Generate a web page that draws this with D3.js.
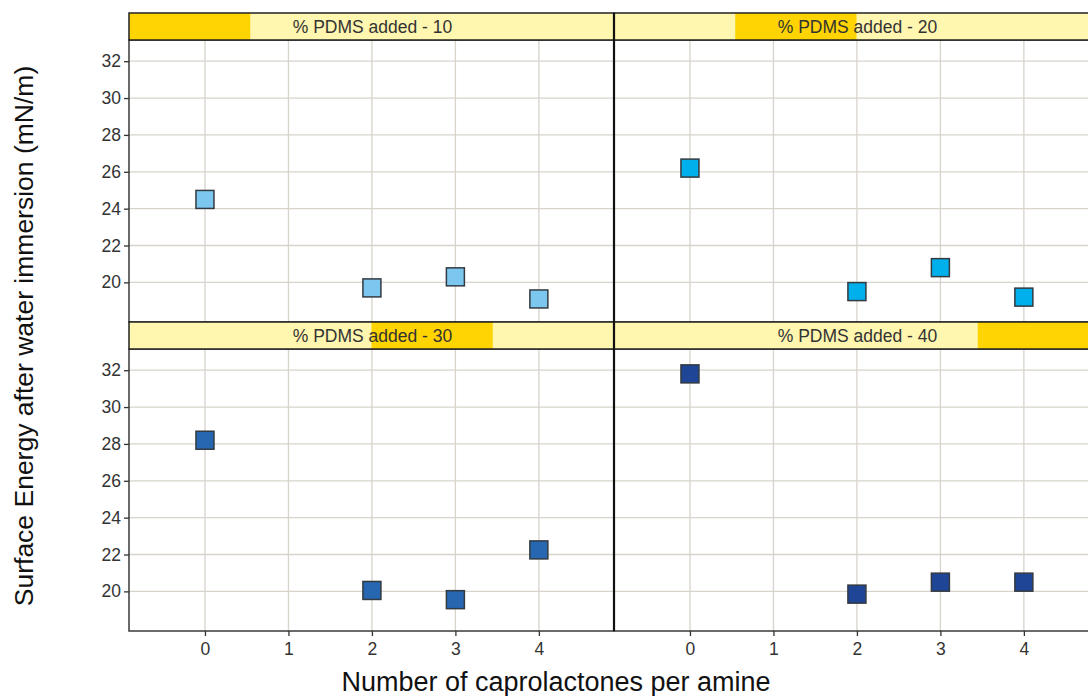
<!DOCTYPE html>
<html>
<head>
<meta charset="utf-8">
<script src="https://cdn.jsdelivr.net/npm/d3@7"></script>
<style>
  html, body { margin: 0; padding: 0; background: #fff; }
  svg { display: block; font-family: "Liberation Sans", Arial, sans-serif; }
</style>
</head>
<body>
<svg id="chart" width="1088" height="696"></svg>
<script>
// Surface energy after water immersion, one panel per PDMS loading
const pdmsLevels = [10, 20, 30, 40];
const caprolactones = [0, 2, 3, 4];
const energy10 = [24.5, 19.7, 20.3, 19.1];
const energy20 = [26.2, 19.5, 20.8, 19.2];
const energy30 = [28.2, 20.05, 19.55, 22.25];
const energy40 = [31.8, 19.85, 20.5, 20.5];
const panelColors = ["#7cc7ef", "#00b0ec", "#2766b1", "#1f4696"];
const xTicks = [0, 1, 2, 3, 4];
const yTicks = [20, 22, 24, 26, 28, 30, 32];

const seriesByPanel = [energy10, energy20, energy30, energy40];

const svg = d3.select("#chart");

const left = 129, panelW = 485;
const stripH = 27;
const rowTops = [13, 322];      // top of each strip row
const rowBottoms = [322, 631];  // bottom of each panel row

const x = d3.scaleLinear().domain([-0.91, 4.9]).range([0, panelW]);
const yDomain = [17.85, 33.15];

pdmsLevels.forEach((lvl, i) => {
  const col = i % 2, row = Math.floor(i / 2);
  const px = left + col * panelW;
  const stripTop = rowTops[row];
  const py = stripTop + stripH;
  const h = rowBottoms[row] - py;
  const yS = d3.scaleLinear().domain(yDomain).range([h, 0]);

  const g = svg.append("g").attr("transform", `translate(${px},${py})`);

  // grid
  g.append("g").selectAll("line").data(xTicks).join("line")
    .attr("x1", d => x(d)).attr("x2", d => x(d))
    .attr("y1", 0).attr("y2", h)
    .attr("stroke", "#d8d3cb").attr("stroke-width", 1.3);
  g.append("g").selectAll("line").data(yTicks).join("line")
    .attr("x1", 0).attr("x2", panelW)
    .attr("y1", d => yS(d)).attr("y2", d => yS(d))
    .attr("stroke", "#d8d3cb").attr("stroke-width", 1.3);

  // points
  const pts = caprolactones.map((c, k) => ({ c, v: seriesByPanel[i][k] }));
  const s = 18;
  g.append("g").selectAll("rect").data(pts).join("rect")
    .attr("x", d => x(d.c) - s / 2).attr("y", d => yS(d.v) - s / 2)
    .attr("width", s).attr("height", s)
    .attr("fill", panelColors[i]).attr("stroke", "#333a40").attr("stroke-width", 1.5);

  // panel frame
  g.append("rect").attr("x", 0).attr("y", 0).attr("width", panelW).attr("height", h)
    .attr("fill", "none").attr("stroke", "#3a3a3a").attr("stroke-width", 1.5);

  // strip with shaded level indicator
  const sg = svg.append("g").attr("transform", `translate(${px},${stripTop})`);
  sg.append("rect").attr("width", panelW).attr("height", stripH).attr("fill", "#fff6b0");
  sg.append("rect").attr("x", panelW * i / 4).attr("width", panelW / 4).attr("height", stripH)
    .attr("fill", "#ffd400");
  sg.append("rect").attr("width", panelW).attr("height", stripH)
    .attr("fill", "none").attr("stroke", "#222").attr("stroke-width", 1.5);
  sg.append("text").attr("x", panelW / 2 + 1).attr("y", stripH / 2 + 6)
    .attr("text-anchor", "middle").attr("font-size", 17.5).attr("fill", "#333")
    .text(`% PDMS added - ${lvl}`);

  // y axis on left column
  if (col === 0) {
    const ax = g.append("g").call(d3.axisLeft(yS).tickValues(yTicks).tickSize(5).tickPadding(3));
    ax.select(".domain").remove();
    ax.selectAll("line").attr("stroke", "#333").attr("stroke-width", 1.3);
    ax.selectAll("text").attr("font-size", 17.5).attr("fill", "#333")
      .attr("font-family", "Liberation Sans, Arial, sans-serif");
  }
  // x axis on bottom row
  if (row === 1) {
    const ax = g.append("g").attr("transform", `translate(0,${h})`)
      .call(d3.axisBottom(x).tickValues(xTicks).tickFormat(d3.format("d")).tickSize(5).tickPadding(7));
    ax.select(".domain").remove();
    ax.selectAll("line").attr("stroke", "#333").attr("stroke-width", 1.3);
    ax.selectAll("text").attr("font-size", 17.5).attr("fill", "#333")
      .attr("font-family", "Liberation Sans, Arial, sans-serif");
  }
});

// divider between columns
svg.append("line").attr("x1", left + panelW).attr("x2", left + panelW)
  .attr("y1", 13).attr("y2", 631).attr("stroke", "#111").attr("stroke-width", 2.2);

// axis titles
svg.append("text").attr("x", 556).attr("y", 691).attr("text-anchor", "middle")
  .attr("font-size", 27).attr("fill", "#111").text("Number of caprolactones per amine");
svg.append("text").attr("transform", "translate(33,336) rotate(-90)").attr("text-anchor", "middle")
  .attr("font-size", 26.5).attr("fill", "#111").text("Surface Energy after water immersion (mN/m)");
</script>
</body>
</html>
